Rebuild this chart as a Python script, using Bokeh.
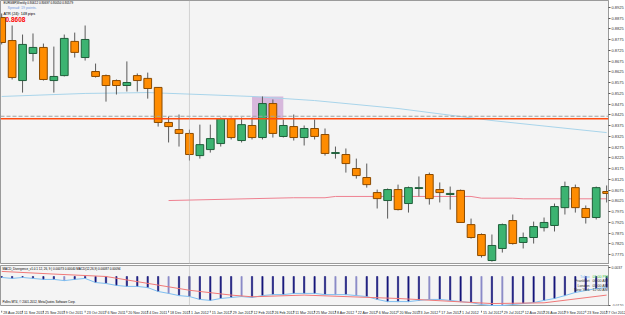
from bokeh.plotting import figure
from bokeh.layouts import column
from bokeh.models import Range1d, FixedTicker, PrintfTickFormatter, Span, Label, ColumnDataSource
from bokeh.embed import file_html
from bokeh.resources import INLINE

# ---------------- data ----------------
opens = [0.8878, 0.8771, 0.8585, 0.8711, 0.8739, 0.8585, 0.8608, 0.8767, 0.8692, 0.8627,
         0.8608, 0.8585, 0.8562, 0.8608, 0.8595, 0.8553, 0.8390, 0.8357, 0.8339, 0.8236,
         0.8264, 0.8292, 0.8408, 0.8306, 0.8376, 0.8320, 0.8478, 0.8325, 0.8371, 0.8320,
         0.8362, 0.8334, 0.8246, 0.8241, 0.8176, 0.8134, 0.8064, 0.8027, 0.8078, 0.8013,
         0.8083, 0.8148, 0.8078, 0.8055, 0.8074, 0.7915, 0.7869, 0.7748, 0.7804, 0.7934,
         0.7832, 0.7855, 0.7901, 0.7911, 0.7994, 0.8087, 0.7990, 0.7948, 0.8069]
highs = [0.8897, 0.8841, 0.8799, 0.8804, 0.8757, 0.8743, 0.8799, 0.8808, 0.8841, 0.8664,
         0.8613, 0.8590, 0.8674, 0.8618, 0.8622, 0.8555, 0.8418, 0.8427, 0.8357, 0.8380,
         0.8380, 0.8413, 0.8413, 0.8413, 0.8413, 0.8511, 0.8497, 0.8404, 0.8427, 0.8376,
         0.8404, 0.8362, 0.8278, 0.8269, 0.8222, 0.8199, 0.8078, 0.8083, 0.8101, 0.8092,
         0.8139, 0.8157, 0.8111, 0.8092, 0.8078, 0.7943, 0.7874, 0.7869, 0.7920, 0.7962,
         0.7878, 0.7929, 0.7948, 0.8013, 0.8115, 0.8101, 0.8004, 0.8092, 0.8097]
lows = [0.8753, 0.8590, 0.8529, 0.8674, 0.8585, 0.8529, 0.8604, 0.8692, 0.8678, 0.8599,
        0.8487, 0.8520, 0.8534, 0.8534, 0.8501, 0.8371, 0.8297, 0.8278, 0.8213, 0.8222,
        0.8250, 0.8278, 0.8311, 0.8297, 0.8311, 0.8311, 0.8320, 0.8320, 0.8306, 0.8283,
        0.8311, 0.8236, 0.8222, 0.8157, 0.8129, 0.8087, 0.7990, 0.7943, 0.7981, 0.7971,
        0.8046, 0.8008, 0.8018, 0.7985, 0.7925, 0.7850, 0.7762, 0.7743, 0.7785, 0.7822,
        0.7804, 0.7827, 0.7883, 0.7883, 0.7962, 0.7971, 0.7920, 0.7939, 0.8018]
closes = [0.8762, 0.8599, 0.8753, 0.8739, 0.8590, 0.8604, 0.8781, 0.8716, 0.8776, 0.8604,
          0.8562, 0.8562, 0.8576, 0.8585, 0.8548, 0.8390, 0.8371, 0.8339, 0.8241, 0.8287,
          0.8315, 0.8408, 0.8320, 0.8380, 0.8320, 0.8478, 0.8339, 0.8376, 0.8320, 0.8362,
          0.8325, 0.8246, 0.8250, 0.8199, 0.8143, 0.8101, 0.8036, 0.8078, 0.7985, 0.8087,
          0.8087, 0.8036, 0.8064, 0.8060, 0.7925, 0.7855, 0.7771, 0.7818, 0.7915, 0.7827,
          0.7855, 0.7906, 0.7925, 0.7999, 0.8092, 0.7994, 0.7948, 0.8087, 0.8060]

date_tick_idx = list(range(0, 59, 2))
date_labels = ["28 Aug 2011", "11 Sep 2011", "25 Sep 2011", "9 Oct 2011", "23 Oct 2011",
               "6 Nov 2011", "20 Nov 2011", "4 Dec 2011", "18 Dec 2011", "1 Jan 2012",
               "15 Jan 2012", "29 Jan 2012", "12 Feb 2012", "26 Feb 2012", "11 Mar 2012",
               "25 Mar 2012", "8 Apr 2012", "22 Apr 2012", "6 May 2012", "20 May 2012",
               "3 Jun 2012", "17 Jun 2012", "1 Jul 2012", "15 Jul 2012", "29 Jul 2012",
               "12 Aug 2012", "26 Aug 2012", "9 Sep 2012", "23 Sep 2012", "7 Oct 2012"]

price_ticks = [round(0.7725 + 0.005 * k, 4) for k in range(25)]

ma_blue_idx = [0, 8, 14, 18, 24, 30, 38, 47, 58]
ma_blue_val = [0.8511, 0.8525, 0.8529, 0.8522, 0.8511, 0.8492, 0.8455, 0.8399, 0.8343]
ma_red_idx = [16, 28, 31, 32, 45, 46, 49, 50, 58]
ma_red_val = [0.8027, 0.8040, 0.8040, 0.8046, 0.8046, 0.8038, 0.8038, 0.8035, 0.8035]

line_orange = 0.8407
line_dashed = 0.8419
year_sep_idx = 18
rect_idx = (24, 27)
rect_price = (0.8404, 0.8511)
box_price = 0.8622

macd = [-0.0004, -0.0008, -0.0004, -0.0008, -0.0012, -0.0012, -0.0017, -0.0012, -0.0008, -0.0025,
        -0.0029, -0.0037, -0.0041, -0.0041, -0.0046, -0.0062, -0.0070, -0.0079, -0.0083, -0.0095,
        -0.0099, -0.0091, -0.0087, -0.0083, -0.0087, -0.0079, -0.0075, -0.0075, -0.0070, -0.0070,
        -0.0070, -0.0075, -0.0075, -0.0075, -0.0079, -0.0083, -0.0095, -0.0104, -0.0104, -0.0104,
        -0.0099, -0.0095, -0.0095, -0.0099, -0.0104, -0.0108, -0.0116, -0.0120, -0.0120, -0.0116,
        -0.0112, -0.0108, -0.0099, -0.0091, -0.0079, -0.0066, -0.0058, -0.0050, -0.0046]
macd_light_idx = [6, 16, 23, 32, 34, 41, 46, 48]
signal_idx = [0, 5, 10, 18, 22, 24, 29, 38, 47, 52, 58]
signal_val = [0.0021, 0.0010, 0.0000, -0.0057, -0.0077, -0.0084, -0.0077, -0.0091, -0.0112, -0.0109, -0.0077]
macd_ticks = [0.0037, -0.0120]

# ---------------- geometry ----------------
PX = 10.43
X0 = -0.115
FW = 608
idx = list(range(len(opens)))

FONT = "Liberation Sans"
BG = "#F4F4F4"
EDGE = "#9A9A9A"


def style_right_axis(p, ticks, fmt, size):
    ax = p.yaxis[0]
    ax.ticker = FixedTicker(ticks=ticks)
    ax.formatter = PrintfTickFormatter(format=fmt)
    ax.major_label_text_font_size = size
    ax.major_label_text_font = FONT
    ax.major_label_text_color = "#333333"
    ax.major_tick_out = 2
    ax.major_tick_in = 0
    ax.minor_tick_out = 0
    ax.minor_tick_in = 0
    ax.major_label_standoff = 1
    ax.axis_line_color = EDGE
    ax.major_tick_line_color = "#555555"


# ---------------- main price panel ----------------
H = 264
main = figure(frame_width=FW, frame_height=H, x_range=Range1d(X0, X0 + FW / PX),
              y_range=Range1d(0.77295, 0.89573), output_backend="svg", toolbar_location=None,
              min_border=0, y_axis_location="right", x_axis_location=None,
              background_fill_color=BG, border_fill_color="#FFFFFF", outline_line_color=EDGE)
main.grid.visible = False
style_right_axis(main, price_ticks, "%.4f", "4px")

main.quad(left=[rect_idx[0]], right=[rect_idx[1]], bottom=[rect_price[0]], top=[rect_price[1]],
          fill_color="#CFA9D6", fill_alpha=0.8, line_color=None)

main.line(ma_blue_idx, ma_blue_val, line_color="#A8D4EA", line_width=1)
main.line(ma_red_idx, ma_red_val, line_color="#EE8090", line_width=1)

main.add_layout(Span(location=line_dashed, dimension="width", line_color="#A0A0A0",
                     line_dash="4 2", line_width=1.2))
main.add_layout(Span(location=line_orange, dimension="width", line_color="#FF4A10", line_width=1.5))
main.add_layout(Span(location=year_sep_idx, dimension="height", line_color="#B0B0B0",
                     line_dash="1 1", line_width=1))

up = [c >= o for o, c in zip(opens, closes)]
src = ColumnDataSource(dict(
    idx=idx, high=highs, low=lows,
    top=[max(o, c) for o, c in zip(opens, closes)],
    bottom=[min(o, c) for o, c in zip(opens, closes)],
    fill=["#3CB371" if u else "#FF8C00" for u in up],
    edge=["#1F5E3A" if u else "#8A4A00" for u in up],
))
main.segment(x0="idx", y0="low", x1="idx", y1="high", source=src, line_color="#5A5A5A", line_width=1)
main.vbar(x="idx", width=0.74, top="top", bottom="bottom", source=src,
          fill_color="fill", line_color="edge", line_width=1)


def add_label(p, x, y, text, size, color="#000000", bold=False, align="left"):
    p.add_layout(Label(x=x, y=y, x_units="screen", y_units="screen", text=text,
                       text_font=FONT, text_font_size=size, text_color=color,
                       text_font_style="bold" if bold else "normal",
                       text_align=align, text_baseline="middle"))


add_label(main, 3, H - 2.5, "EURGBP,Weekly  0.80612 0.80697 0.80050 0.80579", "3px")
add_label(main, 7, H - 7, "Spread: 19 points.", "3.6px", color="#6E9BE0")
add_label(main, 3, H - 13, "ATR (24):  148 pips", "3.8px")
add_label(main, 5, H - 18.5, "0.8608", "6.5px", color="#FF0000", bold=True)

for price, bg in ((box_price, "#000000"), (line_dashed, "#202020")):
    main.add_layout(Label(x=FW + 1, y=price, x_units="screen", y_units="data",
                          text="%.4f" % price, text_font=FONT, text_font_size="4px",
                          text_color="#FFFFFF", background_fill_color=bg,
                          text_baseline="middle"))

# ---------------- MACD panel ----------------
sub = figure(frame_width=FW, frame_height=41, x_range=main.x_range,
             y_range=Range1d(-0.01242, 0.00455), output_backend="svg", toolbar_location=None,
             min_border=0, min_border_top=1, y_axis_location="right", x_axis_location=None,
             background_fill_color=BG, border_fill_color="#FFFFFF", outline_line_color=EDGE)
sub.grid.visible = False
style_right_axis(sub, macd_ticks, "%.4f", "3.5px")

bar_col = ["#8C8CC8" if i in macd_light_idx else "#15157A" for i in idx]
msrc = ColumnDataSource(dict(idx=idx, macd=macd, zero=[0.0] * len(idx), col=bar_col))
sub.vbar(x="idx", width=0.12, top="zero", bottom="macd", source=msrc,
         fill_color="col", line_color="col", line_width=0.6)
sub.line("idx", "macd", source=msrc, line_color="#7EBEF0", line_width=1)
sub.line(signal_idx, signal_val, line_color="#F07878", line_width=1)
sub.add_layout(Span(location=year_sep_idx, dimension="height", line_color="#B0B0B0",
                    line_dash="1 1", line_width=1))

add_label(sub, 2, 38, "MACD_Divergence_v1.0.1 12, 26, 9 | 0.00073 0.00040  MACD(12,26,9) 0.00087 0.00094", "3px")
add_label(sub, 2, 5, "Pollns MT4, \u00a9 2001-2012, MetaQuotes Software Corp.", "3px")
clock = [("Tokyo", "01:00 PM", "#87BEF5", "#3CC83C", 30),
         ("Frankfurt", "06:00 AM", "#333333", "#333333", 25.5),
         ("London", "05:00 AM", "#333333", "#333333", 21),
         ("New York", "12:00 AM", "#333333", "#333333", 16.5)]
for city, t, c1, c2, yy in clock:
    add_label(sub, 589, yy, city, "3.6px", color=c1, align="right")
    add_label(sub, 592, yy, t, "3.6px", color=c2)

# ---------------- date strip ----------------
dates = figure(frame_width=625, frame_height=8, x_range=Range1d(X0, X0 + 625 / PX),
               y_range=Range1d(0, 1), output_backend="svg", toolbar_location=None,
               min_border=0, x_axis_location=None, y_axis_location=None,
               background_fill_color="#FFFFFF", border_fill_color="#FFFFFF", outline_line_color=None)
dates.grid.visible = False
n = len(date_labels)
dsrc = ColumnDataSource(dict(x=date_tick_idx, lab=date_labels, y0=[1.0] * n,
                             y1=[0.75] * n, ym=[0.88] * n))
dates.segment(x0="x", y0="y0", x1="x", y1="y1", source=dsrc, line_color="#777777", line_width=1)
dates.text(x="x", y="ym", text="lab", source=dsrc, text_font_size="3.6px", text_color="#222222",
           text_align="left", text_baseline="top", x_offset=1.5,
           text_font={"value": FONT})

layout = column(main, sub, dates, spacing=0)
open("out.html", "w").write(file_html(layout, INLINE))
